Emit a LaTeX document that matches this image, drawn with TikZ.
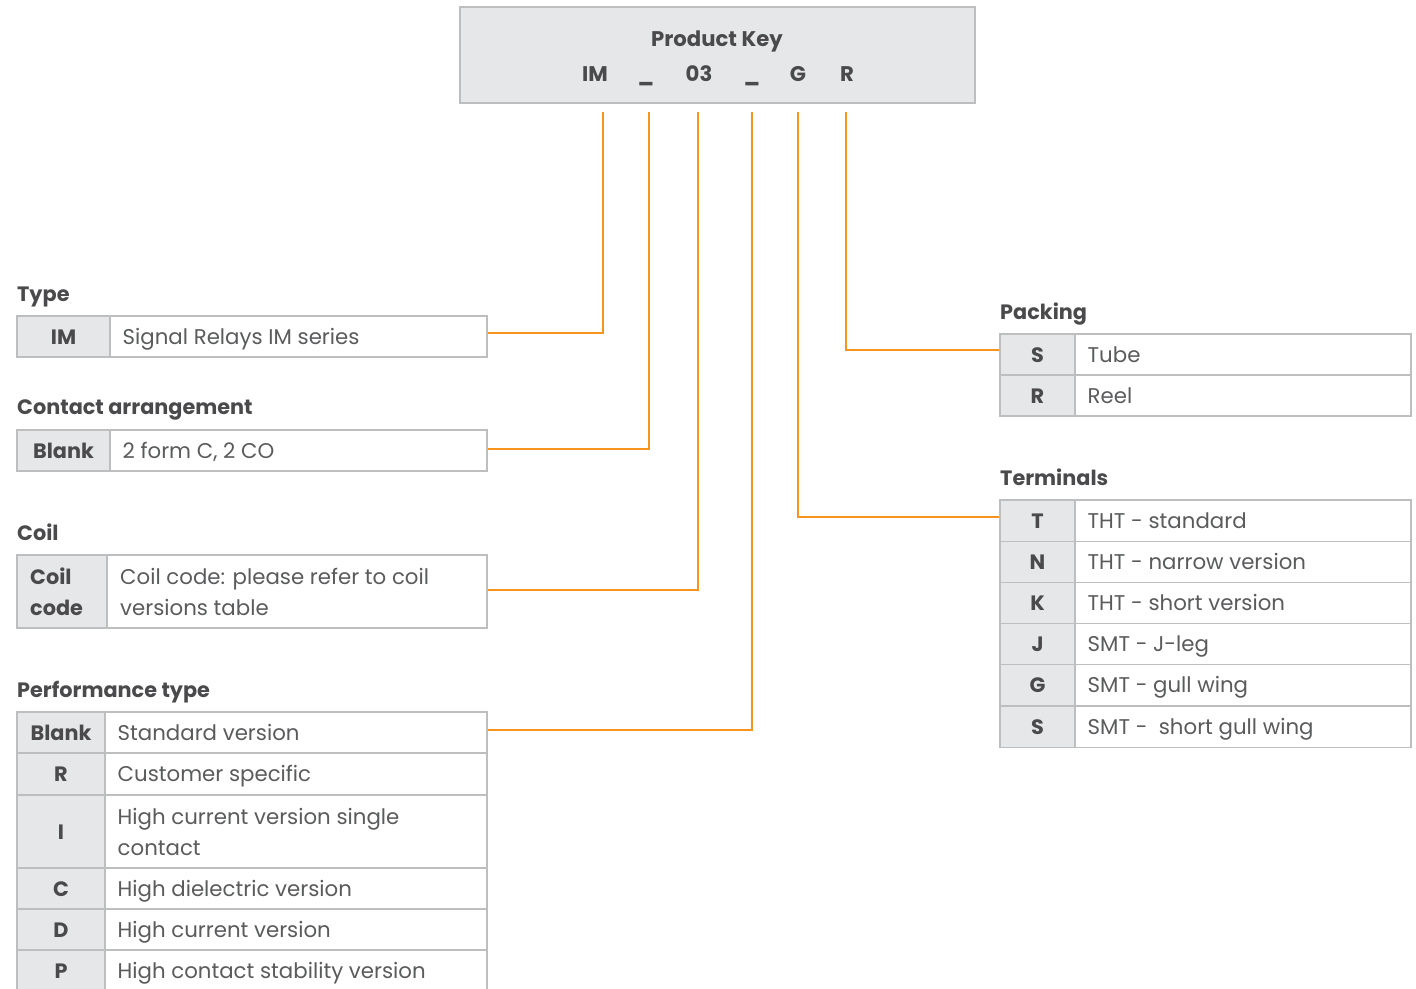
\documentclass[tikz,border=0pt]{standalone}
\usepackage{fontspec}
\setmainfont{Poppins}
\definecolor{keyfill}{HTML}{E6E7E9}
\definecolor{bord}{HTML}{BDBEC0}
\definecolor{txtb}{HTML}{4A4A4C}
\definecolor{txt}{HTML}{5A5B5D}
\definecolor{orng}{HTML}{F7941E}
\newcommand\kvrow[8]{%
  \node[kcell, minimum width={#3-#2}, minimum height={#6-#5}] (#1k) at ({(#2+#3)/2},{(#5+#6)/2}) {};
  \node[vcell, minimum width={#4-#3}, minimum height={#6-#5}] (#1v) at ({(#3+#4)/2},{(#5+#6)/2}) {};
  \node[ktext] (#1kt) at ({(#2+#3)/2},{(#5+#6)/2+7.5}) {#7};
  \node[vtext] (#1vt) at ({#3+12.5},{(#5+#6)/2+7.5}) {#8};
}
\begin{document}
\begin{tikzpicture}[x=1pt,y=-1pt,
  kcell/.style={draw=bord, line width=1.3pt, fill=keyfill, inner sep=0pt},
  vcell/.style={draw=bord, line width=1.3pt, fill=white, inner sep=0pt},
  ktext/.style={anchor=base, inner sep=0pt, text=txtb, font=\fontsize{20.8}{24}\selectfont\bfseries},
  vtext/.style={anchor=base west, inner sep=0pt, text=txt, font=\fontsize{21.3}{24}\selectfont},
  ttl/.style={anchor=base west, inner sep=0pt, text=txtb, font=\fontsize{20.8}{24}\selectfont\bfseries},
  hdr/.style={anchor=base, inner sep=0pt, text=txtb, font=\fontsize{21.2}{24}\selectfont\bfseries},
  conn/.style={draw=orng, line width=1.6pt},
]
\useasboundingbox (0,0) rectangle (1416,988);
% header
\node[kcell, minimum width=515, minimum height=96] (pk) at (717.5,55) {};
\node[hdr] (pkt) at (717,46) {Product Key};
\node[hdr] (kIM) at (595,81) {IM};
\node[hdr] (kU1) at (646,81) {\_};
\node[hdr] (k03) at (699,81) {03};
\node[hdr] (kU2) at (752,81) {\_};
\node[hdr] (kG) at (798,81) {G};
\node[hdr] (kR) at (847,81) {R};
\coordinate (tIM) at (603,112);
\coordinate (tU1) at (649,112);
\coordinate (t03) at (698,112);
\coordinate (tU2) at (752,112);
\coordinate (tG) at (798,112);
\coordinate (tR) at (846,112);
% Type
\node[ttl] (ttype) at (17,301) {Type};
\kvrow{type}{17}{110}{487}{316}{357}{IM}{Signal Relays IM series}
% Contact arrangement
\node[ttl] (tcont) at (17,414) {Contact arrangement};
\kvrow{cont}{17}{110}{487}{430}{471}{Blank}{2 form C, 2 CO}
% Coil
\node[ttl] (tcoil) at (17,540) {Coil};
\kvrow{coil}{17}{107}{487}{555}{628}{}{}
\node[ttl] (coilk1) at (30,584) {Coil};
\node[ttl] (coilk2) at (30,615) {code};
\node[vtext] (coilv1) at (120,584) {Coil code: please refer to coil};
\node[vtext] (coilv2) at (120,615) {versions table};
% Performance type
\node[ttl] (tperf) at (17,697) {Performance type};
\kvrow{pa}{17}{105}{487}{712}{753}{Blank}{Standard version}
\kvrow{pb}{17}{105}{487}{753}{795}{R}{Customer specific}
\kvrow{pc}{17}{105}{487}{795}{868}{I}{}
\node[vtext] (pcv1) at (117.5,824) {High current version single};
\node[vtext] (pcv2) at (117.5,855) {contact};
\kvrow{pd}{17}{105}{487}{868}{909}{C}{High dielectric version}
\kvrow{pe}{17}{105}{487}{909}{950}{D}{High current version}
\kvrow{pf}{17}{105}{487}{950}{991}{P}{High contact stability version}
% Packing
\node[ttl] (tpack) at (1000,319) {Packing};
\kvrow{sa}{1000}{1075}{1411}{334}{375}{S}{Tube}
\kvrow{sb}{1000}{1075}{1411}{375}{416}{R}{Reel}
% Terminals
\node[ttl] (tterm) at (1000,485) {Terminals};
\kvrow{ta}{1000}{1075}{1411}{500}{541.2}{T}{THT - standard}
\kvrow{tb}{1000}{1075}{1411}{541.2}{582.4}{N}{THT - narrow version}
\kvrow{tc}{1000}{1075}{1411}{582.4}{623.6}{K}{THT - short version}
\kvrow{td}{1000}{1075}{1411}{623.6}{664.8}{J}{SMT - J-leg}
\kvrow{te}{1000}{1075}{1411}{664.8}{706}{G}{SMT - gull wing}
\kvrow{tf}{1000}{1075}{1411}{706}{747.2}{S}{SMT - \ short gull wing}
% connectors
\draw[conn] (tIM) |- ([yshift=3.5pt]typev.east);
\draw[conn] (tU1) |- ([yshift=1.5pt]contv.east);
\draw[conn] (t03) |- ([yshift=1.5pt]coilv.east);
\draw[conn] (tU2) |- ([yshift=2.5pt]pav.east);
\draw[conn] (tG) |- ([yshift=3.5pt]tak.west);
\draw[conn] (tR) |- ([yshift=4.5pt]sak.west);
\end{tikzpicture}
\end{document}
